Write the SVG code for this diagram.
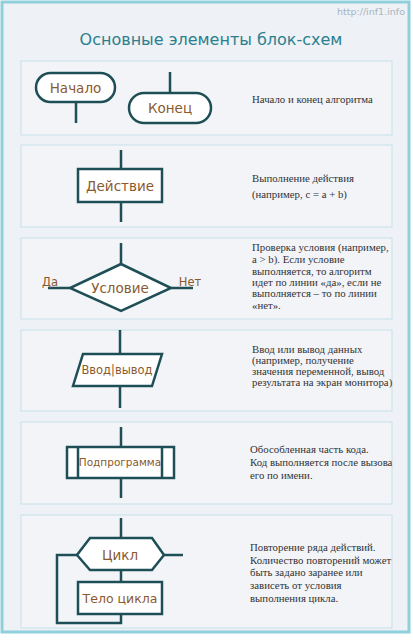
<svg xmlns="http://www.w3.org/2000/svg" width="413" height="640" viewBox="0 0 413 640">
<style>
.panel{fill:#f2f4f8;stroke:#c4e2e7;stroke-width:1}
.shape{fill:#ffffff;stroke:#1e4f56;stroke-width:2.5}
.conn{fill:none;stroke:#1e4f56;stroke-width:2.5}
.lbl{font-family:"DejaVu Sans",Verdana,sans-serif;fill:#8a5a2e;text-anchor:middle}
.desc{font-family:"Liberation Serif","Times New Roman",serif;font-size:10.8px;fill:#333}
</style>
<rect x="0" y="0" width="413" height="640" fill="#ffffff"/>
<rect x="2" y="2" width="407" height="630" fill="#eef1f6" stroke="#8fd0dc" stroke-width="3"/>
<text x="405" y="15" text-anchor="end" font-family="'DejaVu Sans',Verdana,sans-serif" font-size="9.5" fill="#a9b4bd">http://inf1.info</text>
<text x="211" y="45" text-anchor="middle" font-family="'DejaVu Sans',Verdana,sans-serif" font-size="16" fill="#2b7f8e">Основные элементы блок-схем</text>
<g id="panels">
<rect class="panel" x="21" y="61" width="371" height="74"/>
<rect class="panel" x="21" y="145" width="371" height="82"/>
<rect class="panel" x="21" y="238" width="371" height="81"/>
<rect class="panel" x="21" y="330" width="371" height="81"/>
<rect class="panel" x="21" y="422" width="371" height="82"/>
<rect class="panel" x="21" y="515" width="371" height="113"/>
</g>
<g id="connectors">
<line class="conn" x1="76" y1="102" x2="76" y2="123"/>
<line class="conn" x1="170" y1="72" x2="170" y2="93"/>
<line class="conn" x1="121" y1="150" x2="121" y2="169"/>
<line class="conn" x1="121" y1="202" x2="121" y2="222"/>
<line class="conn" x1="121" y1="243" x2="121" y2="264"/>
<line class="conn" x1="48" y1="288" x2="70" y2="288"/>
<line class="conn" x1="171" y1="288" x2="193" y2="288"/>
<line class="conn" x1="120" y1="330" x2="120" y2="354"/>
<line class="conn" x1="120" y1="386" x2="120" y2="408"/>
<line class="conn" x1="121" y1="427" x2="121" y2="447"/>
<line class="conn" x1="121" y1="478" x2="121" y2="498"/>
<line class="conn" x1="121" y1="518" x2="121" y2="538"/>
<line class="conn" x1="164" y1="555" x2="183" y2="555"/>
<line class="conn" x1="121" y1="570" x2="121" y2="582"/>
<polyline class="conn" points="77,555 57,555 57,623 121,623 121,614"/>
</g>
<g id="node-start">
<rect class="shape" x="36" y="73" width="79" height="29" rx="14.5"/>
<text class="lbl" x="75.5" y="93" font-size="13.5">Начало</text>
</g>
<g id="node-end">
<rect class="shape" x="129" y="93" width="82" height="30" rx="15"/>
<text class="lbl" x="170" y="113" font-size="13.5">Конец</text>
</g>
<text class="desc" x="252" y="103">Начало и конец алгоритма</text>
<g id="node-action">
<rect class="shape" x="78" y="169" width="84" height="33"/>
<text class="lbl" x="120" y="191" font-size="13.5">Действие</text>
</g>
<text class="desc" x="252" y="182">Выполнение действия</text>
<text class="desc" x="252" y="198">(например, c = a + b)</text>
<g id="node-condition">
<polygon class="shape" points="121,264 171,288 121,311 70,288"/>
<text class="lbl" x="120" y="293" font-size="13.5">Условие</text>
</g>
<text class="lbl" x="50" y="286" font-size="11.5">Да</text>
<text class="lbl" x="190" y="286" font-size="11.5">Нет</text>
<g class="desc">
<text x="252" y="251">Проверка условия (например,</text>
<text x="252" y="263">a &gt; b). Если условие</text>
<text x="252" y="275">выполняется, то алгоритм</text>
<text x="252" y="286">идет по линии «да», если не</text>
<text x="252" y="297">выполняется – то по линии</text>
<text x="252" y="309">«нет».</text>
</g>
<g id="node-io">
<polygon class="shape" points="83,354 162,354 152,386 73,386"/>
<text class="lbl" x="117" y="374" font-size="11.5">Ввод|вывод</text>
</g>
<g class="desc">
<text x="252" y="353">Ввод или вывод данных</text>
<text x="252" y="364">(например, получение</text>
<text x="252" y="375">значения переменной, вывод</text>
<text x="252" y="386">результата на экран монитора)</text>
</g>
<g id="node-subprogram">
<rect class="shape" x="67" y="447" width="107" height="31"/>
<line class="conn" x1="78" y1="447" x2="78" y2="478"/>
<line class="conn" x1="162" y1="447" x2="162" y2="478"/>
<text class="lbl" x="120" y="466" font-size="10.5">Подпрограмма</text>
</g>
<g class="desc">
<text x="250" y="453">Обособленная часть кода.</text>
<text x="250" y="466">Код выполняется после вызова</text>
<text x="250" y="479">его по имени.</text>
</g>
<g id="node-loop">
<polygon class="shape" points="90,538 152,538 164,555 152,570 90,570 77,555"/>
<text class="lbl" x="120" y="560" font-size="13.5">Цикл</text>
</g>
<g id="node-body">
<rect class="shape" x="78" y="582" width="84" height="32"/>
<text class="lbl" x="120" y="603" font-size="12.5">Тело цикла</text>
</g>
<g class="desc">
<text x="250" y="551">Повторение ряда действий.</text>
<text x="250" y="564">Количество повторений может</text>
<text x="250" y="576">быть задано заранее или</text>
<text x="250" y="589">зависеть от условия</text>
<text x="250" y="602">выполнения цикла.</text>
</g>
</svg>
